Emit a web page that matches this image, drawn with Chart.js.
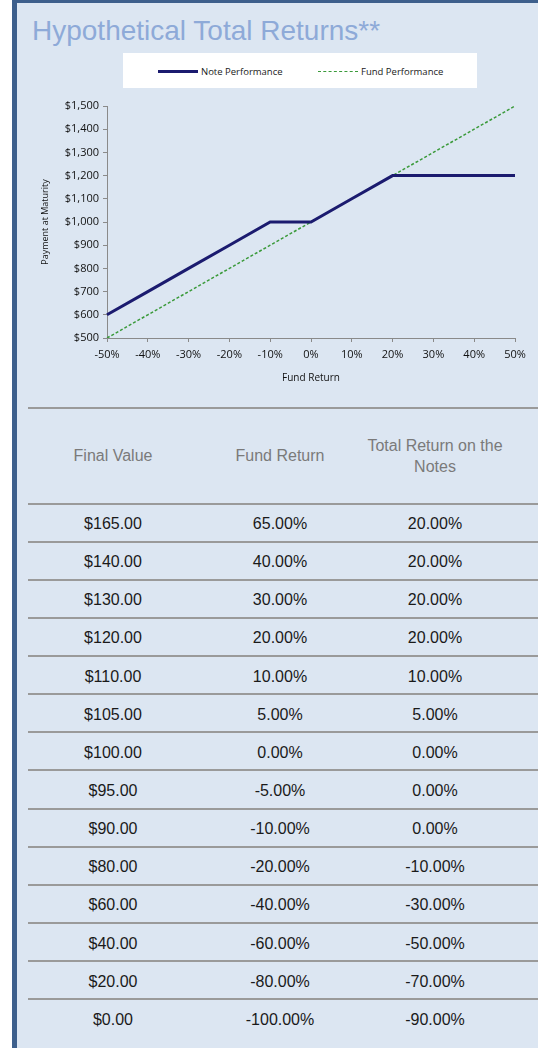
<!DOCTYPE html>
<html>
<head>
<meta charset="utf-8">
<script src="https://cdn.jsdelivr.net/npm/chart.js@4.4.1/dist/chart.umd.min.js"></script>
<style>
  html, body { margin: 0; padding: 0; }
  body {
    width: 538px; height: 1048px; overflow: hidden; position: relative;
    background: #ffffff; font-family: "Liberation Sans", Arial, sans-serif;
  }
  .panel {
    position: absolute; left: 12px; top: 0; width: 560px; height: 1048px;
    background: #dce6f2; border-left: 5px solid #3d5f8c; border-top: 3px solid #3d5f8c;
    box-sizing: border-box;
  }
  .title {
    position: absolute; left: 32px; top: 15px; font-size: 28px; color: #8eaad8;
    white-space: nowrap; letter-spacing: 0;
  }
  .legend {
    position: absolute; left: 123px; top: 53px; width: 354px; height: 35px; background: #fff;
    font-family: "Open Sans", sans-serif; font-size: 9.5px; color: #1a1a1a;
  }
  .legend .item { position: absolute; top: 12px; display: flex; align-items: center; white-space: nowrap; }
  .legend .swatch { width: 40px; margin-right: 3px; }
  .legend .note { border-top: 3px solid #1b1b6f; }
  .legend .fund { border-top: 1.5px dashed #3a9a3a; }
  #chartWrap { position: absolute; left: 20px; top: 95px; }
  .table { position: absolute; left: 28px; top: 407px; width: 520px; }
  .row { display: flex; box-sizing: border-box; border-top: 2px solid #9a9a9a; height: 38.15px; align-items: center; padding-top: 3px; }
  .row.head { height: 95.5px; padding-top: 0; }
  .cell { text-align: center; font-size: 16px; color: #1a1a1a; }
  .head .cell { color: #7a7a7a; line-height: 21px; }
  .c1 { width: 170px; } .c2 { width: 164px; } .c3 { width: 166px; padding-right: 20px; box-sizing: border-box; }
</style>
</head>
<body>
<div class="panel"></div>
<div class="title">Hypothetical Total Returns**</div>
<div class="legend">
  <div class="item" style="left:35px"><div class="swatch note"></div>Note Performance</div>
  <div class="item" style="left:195px"><div class="swatch fund"></div>Fund Performance</div>
</div>
<div id="chartWrap"><canvas id="returnsChart" width="540" height="300"></canvas></div>
<div class="table" id="returnsTable"></div>

<script>
// chart data
const fundReturnLabels = ['-50%', '-40%', '-30%', '-20%', '-10%', '0%', '10%', '20%', '30%', '40%', '50%'];
const notePayment = [600, 700, 800, 900, 1000, 1000, 1100, 1200, 1200, 1200, 1200];
const fundPayment = [500, 600, 700, 800, 900, 1000, 1100, 1200, 1300, 1400, 1500];

// table data
const tableHeaders = ['Final Value', 'Fund Return', 'Total Return on the Notes'];
const finalValues = ['$165.00', '$140.00', '$130.00', '$120.00', '$110.00', '$105.00', '$100.00',
                     '$95.00', '$90.00', '$80.00', '$60.00', '$40.00', '$20.00', '$0.00'];
const fundReturns = ['65.00%', '40.00%', '30.00%', '20.00%', '10.00%', '5.00%', '0.00%',
                     '-5.00%', '-10.00%', '-20.00%', '-40.00%', '-60.00%', '-80.00%', '-100.00%'];
const noteReturns = ['20.00%', '20.00%', '20.00%', '20.00%', '10.00%', '5.00%', '0.00%',
                     '0.00%', '0.00%', '-10.00%', '-30.00%', '-50.00%', '-70.00%', '-90.00%'];

function buildTable() {
    const table = document.getElementById('returnsTable');
    const head = document.createElement('div');
    head.className = 'row head';
    tableHeaders.forEach((h, i) => {
        const c = document.createElement('div');
        c.className = 'cell c' + (i + 1);
        c.textContent = h;
        head.appendChild(c);
    });
    table.appendChild(head);

    finalValues.forEach((v, i) => {
        const row = document.createElement('div');
        row.className = 'row';
        [v, fundReturns[i], noteReturns[i]].forEach((txt, j) => {
            const c = document.createElement('div');
            c.className = 'cell c' + (j + 1);
            c.textContent = txt;
            row.appendChild(c);
        });
        table.appendChild(row);
    });
}

function buildChart() {
    const axisColor = '#8a8a8a';
    const tickFont = { family: "'Open Sans', sans-serif", size: 11 };
    const ctx = document.getElementById('returnsChart').getContext('2d');
    new Chart(ctx, {
        type: 'line',
        data: {
            labels: fundReturnLabels,
            datasets: [
                {
                    label: 'Note Performance',
                    data: notePayment,
                    borderColor: '#1b1b6f',
                    borderWidth: 3,
                    pointRadius: 0,
                    tension: 0
                },
                {
                    label: 'Fund Performance',
                    data: fundPayment,
                    borderColor: '#3a9a3a',
                    borderWidth: 1.5,
                    borderDash: [3, 2],
                    pointRadius: 0,
                    tension: 0
                }
            ]
        },
        options: {
            responsive: false,
            animation: false,
            devicePixelRatio: 1,
            layout: { padding: { top: 11, right: 45, bottom: 7, left: 0 } },
            plugins: { legend: { display: false }, tooltip: { enabled: false } },
            scales: {
                x: {
                    offset: false,
                    grid: { display: true, drawOnChartArea: false, drawTicks: true, tickLength: 4, color: axisColor },
                    border: { display: true, color: axisColor, width: 1 },
                    ticks: { color: '#111', font: tickFont, padding: 6, maxRotation: 0, autoSkip: false },
                    title: { display: true, text: 'Fund Return', color: '#111',
                             font: { family: "'Open Sans', sans-serif", size: 10 }, padding: { top: 0, bottom: 4 } },
                    afterFit: s => { s.height = 50; }
                },
                y: {
                    min: 500, max: 1500,
                    grid: { display: true, drawOnChartArea: false, drawTicks: true, tickLength: 4, color: axisColor },
                    border: { display: true, color: axisColor, width: 1 },
                    ticks: {
                        stepSize: 100, color: '#111', font: tickFont, padding: 4,
                        callback: v => '$' + v.toLocaleString('en-US')
                    },
                    title: { display: true, text: 'Payment at Maturity', color: '#111',
                             font: { family: "'Open Sans', sans-serif", size: 9 }, padding: { top: 20, bottom: 0 } },
                    afterFit: s => { s.width = 87; }
                }
            }
        }
    });
}

buildTable();
buildChart();
</script>
</body>
</html>
